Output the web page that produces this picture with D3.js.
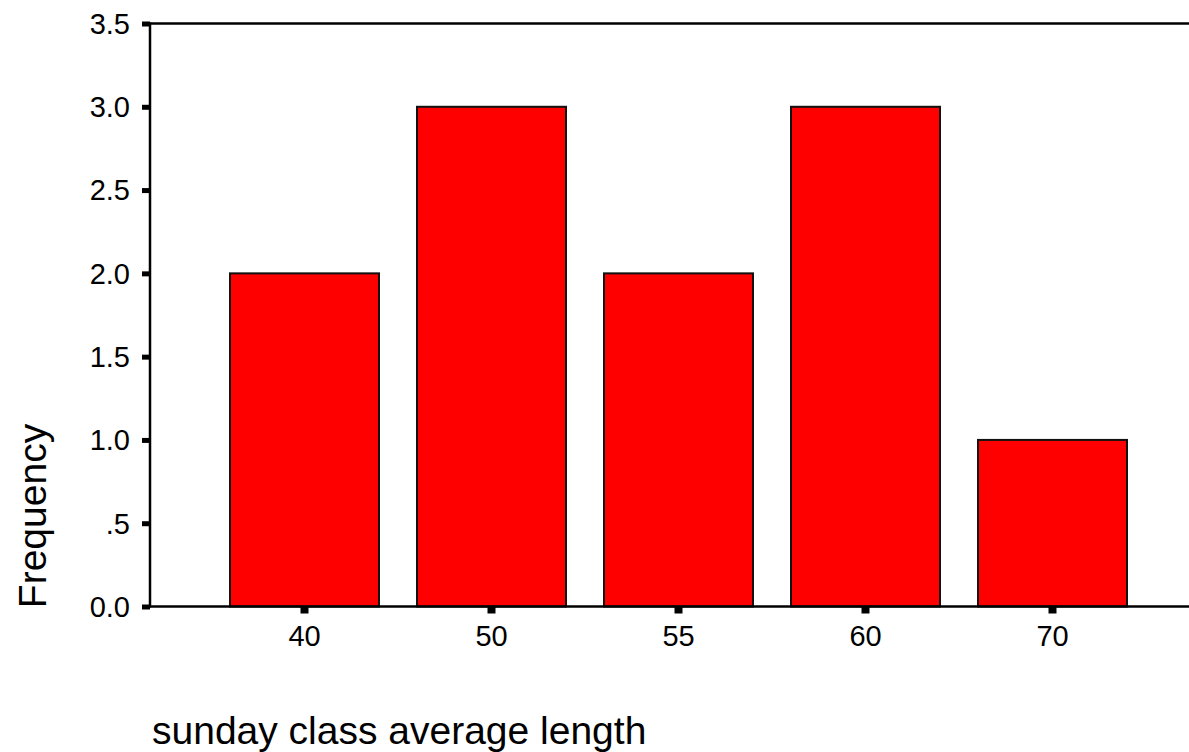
<!DOCTYPE html>
<html>
<head>
<meta charset="utf-8">
<script src="https://cdn.jsdelivr.net/npm/d3@7"></script>
<style>
  html, body { margin: 0; padding: 0; background: #fff; }
  svg { display: block; font-family: "Liberation Sans", Arial, Helvetica, sans-serif; }
</style>
</head>
<body>
<svg id="chart" width="1189" height="752"></svg>
<script>
const categories = ["40", "50", "55", "60", "70"];
const frequencies = [2, 3, 2, 3, 1];
const yTickValues = [0, 0.5, 1, 1.5, 2, 2.5, 3, 3.5];
const yTickLabels = ["0.0", ".5", "1.0", "1.5", "2.0", "2.5", "3.0", "3.5"];
const xTitle = "sunday class average length";
const yTitle = "Frequency";

const svg = d3.select("#chart");
const W = 1189;
const plotLeft = 150, plotTop = 23.5, plotBottom = 606.5;

const y = d3.scaleLinear().domain([0, 3.5]).range([plotBottom, plotTop]);
const x = d3.scaleBand().domain(categories).range([211, 1146])
  .paddingInner(38 / 187).paddingOuter(19 / 187);

// bars
svg.append("g").selectAll("rect").data(categories).join("rect")
  .attr("x", d => x(d))
  .attr("width", x.bandwidth())
  .attr("y", (d, i) => y(frequencies[i]))
  .attr("height", (d, i) => y(0) - y(frequencies[i]))
  .attr("fill", "#ff0000")
  .attr("stroke", "#111")
  .attr("stroke-width", 2);

// frame lines
svg.append("line").attr("x1", plotLeft).attr("x2", W).attr("y1", plotTop).attr("y2", plotTop)
  .attr("stroke", "#000").attr("stroke-width", 2.5);
svg.append("line").attr("x1", plotLeft).attr("x2", W).attr("y1", plotBottom).attr("y2", plotBottom)
  .attr("stroke", "#000").attr("stroke-width", 2.5);
svg.append("line").attr("x1", plotLeft).attr("x2", plotLeft).attr("y1", plotTop - 1).attr("y2", plotBottom + 1)
  .attr("stroke", "#000").attr("stroke-width", 2.5);

// y axis
const yAxis = d3.axisLeft(y).tickValues(yTickValues)
  .tickFormat((d, i) => yTickLabels[i]).tickSize(8).tickPadding(12);
const gy = svg.append("g").attr("transform", `translate(${plotLeft},0)`).call(yAxis);
gy.select(".domain").remove();
gy.selectAll(".tick line").attr("stroke", "#000").attr("stroke-width", 5);
gy.selectAll(".tick text").attr("font-size", 29).attr("fill", "#000")
  .attr("font-family", "Liberation Sans, Arial, sans-serif").attr("dy", "0.34em");

// x axis
const xAxis = d3.axisBottom(x).tickSize(7).tickPadding(12);
const gx = svg.append("g").attr("transform", `translate(0,${plotBottom})`).call(xAxis);
gx.select(".domain").remove();
gx.selectAll(".tick line").attr("stroke", "#000").attr("stroke-width", 8);
gx.selectAll(".tick text").attr("font-size", 29).attr("fill", "#000")
  .attr("font-family", "Liberation Sans, Arial, sans-serif");

// titles
svg.append("text").attr("x", 152).attr("y", 744)
  .attr("font-size", 39).attr("fill", "#000").text(xTitle);
svg.append("text").attr("transform", "translate(46,516) rotate(-90)")
  .attr("text-anchor", "middle").attr("font-size", 39).attr("fill", "#000").text(yTitle);
</script>
</body>
</html>
